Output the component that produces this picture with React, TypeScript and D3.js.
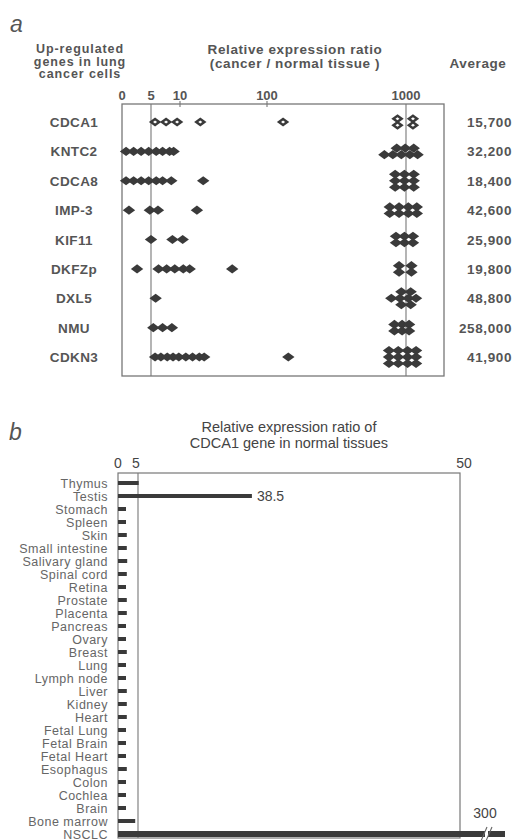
import React, { useEffect, useRef } from 'react';
import * as d3 from 'd3';

// panel a
const genes = ['CDCA1', 'KNTC2', 'CDCA8', 'IMP-3', 'KIF11', 'DKFZp', 'DXL5', 'NMU', 'CDKN3'];
const averages = ['15,700', '32,200', '18,400', '42,600', '25,900', '19,800', '48,800', '258,000', '41,900'];
// single cases below the 1000 column
const lowRatios = [
  [5.7, 7.6, 9.5, 31, 204],
  [0.7, 2.0, 3.3, 4.6, 5.9, 7.0, 8.2, 8.9],
  [0.7, 2.0, 3.3, 4.6, 5.9, 7.0, 8.5, 34],
  [1.2, 4.8, 6.2, 27.5],
  [5.0, 8.7, 12.8],
  [2.6, 6.3, 7.7, 9.1, 13.4, 20, 64],
  [5.8],
  [5.4, 7.0, 8.6],
  [5.7, 6.7, 7.8, 8.8, 9.8, 16, 23, 30, 35, 238],
];
// cases stacked at >1000, one array per stacked row
const highRatios = [
  [[945, 1045], [945, 1045]],
  [[940, 995, 1050], [860, 915, 970, 1025, 1075]],
  [[930, 990, 1050], [930, 990, 1050], [930, 990, 1050]],
  [[895, 955, 1015, 1070], [895, 955, 1015, 1070]],
  [[935, 990, 1045], [935, 990, 1045]],
  [[955, 1035], [955, 1035]],
  [[970, 1030], [905, 960, 1015, 1065], [970, 1030]],
  [[925, 975, 1020], [925, 975, 1020]],
  [[890, 950, 1010, 1065], [890, 950, 1010, 1065], [890, 950, 1010, 1065]],
];
const hollowGenes = ['CDCA1'];
const ratioTicks = [0, 5, 10, 100, 1000];
const ratioLines = [5, 1000];

// panel b
const tissues = [
  'Thymus', 'Testis', 'Stomach', 'Spleen', 'Skin', 'Small intestine', 'Salivary gland',
  'Spinal cord', 'Retina', 'Prostate', 'Placenta', 'Pancreas', 'Ovary', 'Breast', 'Lung',
  'Lymph node', 'Liver', 'Kidney', 'Heart', 'Fetal Lung', 'Fetal Brain', 'Fetal Heart',
  'Esophagus', 'Colon', 'Cochlea', 'Brain', 'Bone marrow', 'NSCLC',
];
const tissueRatios = [
  5.2, 38.5, 2.0, 2.0, 2.2, 2.2, 2.3, 2.2, 2.0, 2.2, 2.2, 2.0, 2.0, 2.2, 2.0,
  2.0, 2.2, 2.2, 2.2, 2.0, 2.0, 2.0, 2.2, 2.0, 2.0, 2.0, 4.3, 300,
];
const tissueTicks = [0, 5, 50];
const labelledTissues = ['Testis', 'NSCLC'];

const FONT = '"Liberation Sans", Arial, Helvetica, sans-serif';
const INK = '#3a3a3a';
const TEXT = '#555';
const LINE = '#777';

const diamond = (w: number, h: number) => `M0,${-h}L${w},0L0,${h}L${-w},0Z`;

const App: React.FC = () => {
  const svgRef = useRef<SVGSVGElement>(null);

  useEffect(() => {
    if (!svgRef.current) return;
    const svg = d3.select(svgRef.current);
    svg.selectAll('*').remove();

    // ---------- panel a ----------
    const boxA = { left: 122, right: 444, top: 104, bottom: 376 };
    const x = d3.scaleLinear().domain(ratioTicks).range([122, 151, 180, 267, 406]);
    const y = d3.scalePoint<string>().domain(genes).range([122, 357]);

    svg.append('text').attr('x', 10).attr('y', 32)
      .attr('font-size', 23).attr('font-style', 'italic').attr('fill', TEXT).text('a');

    const headLeft = ['Up-regulated', 'genes in lung', 'cancer cells'];
    headLeft.forEach((t, i) => {
      svg.append('text').attr('x', 80).attr('y', 53 + i * 12.5)
        .attr('text-anchor', 'middle').attr('font-size', 12.5).attr('font-weight', 'bold')
        .attr('letter-spacing', 0.9).attr('fill', TEXT).text(t);
    });
    ['Relative expression ratio', '(cancer / normal tissue )'].forEach((t, i) => {
      svg.append('text').attr('x', 295).attr('y', 54 + i * 14)
        .attr('text-anchor', 'middle').attr('font-size', 13.5).attr('font-weight', 'bold')
        .attr('letter-spacing', 0.6).attr('fill', TEXT).text(t);
    });
    svg.append('text').attr('x', 478).attr('y', 68)
      .attr('text-anchor', 'middle').attr('font-size', 13.5).attr('font-weight', 'bold')
      .attr('letter-spacing', 0.6).attr('fill', TEXT).text('Average');

    svg.append('g').selectAll('text').data(ratioTicks).join('text')
      .attr('x', d => x(d)).attr('y', 100).attr('text-anchor', 'middle')
      .attr('font-size', 13).attr('font-weight', 'bold').attr('fill', TEXT)
      .text(d => String(d));

    svg.append('rect')
      .attr('x', boxA.left).attr('y', boxA.top)
      .attr('width', boxA.right - boxA.left).attr('height', boxA.bottom - boxA.top)
      .attr('fill', 'none').attr('stroke', LINE).attr('stroke-width', 1.3);

    svg.append('g').selectAll('line').data(ratioLines).join('line')
      .attr('x1', d => x(d)).attr('x2', d => x(d))
      .attr('y1', boxA.top).attr('y2', boxA.bottom)
      .attr('stroke', LINE).attr('stroke-width', 1.1);

    // little ticks on the top edge
    svg.append('g').selectAll('line').data([10, 100]).join('line')
      .attr('x1', d => x(d)).attr('x2', d => x(d))
      .attr('y1', boxA.top - 3).attr('y2', boxA.top + 3)
      .attr('stroke', LINE).attr('stroke-width', 1.1);

    svg.append('g').selectAll('text').data(genes).join('text')
      .attr('x', 74).attr('y', d => (y(d) ?? 0) + 5).attr('text-anchor', 'middle')
      .attr('font-size', 13.5).attr('font-weight', 'bold').attr('letter-spacing', 0.4)
      .attr('fill', TEXT).text(d => d);

    svg.append('g').selectAll('text').data(averages).join('text')
      .attr('x', 512).attr('y', (_, i) => (y(genes[i]) ?? 0) + 5).attr('text-anchor', 'end')
      .attr('font-size', 13.5).attr('font-weight', 'bold').attr('letter-spacing', 0.6)
      .attr('fill', TEXT).text(d => d);

    const points: { gene: string; v: number; dy: number }[] = [];
    genes.forEach((g, i) => {
      lowRatios[i].forEach(v => points.push({ gene: g, v, dy: 0 }));
      const rows = highRatios[i];
      rows.forEach((row, r) => {
        const dy = (r - (rows.length - 1) / 2) * 6.5;
        row.forEach(v => points.push({ gene: g, v, dy }));
      });
    });

    const pts = svg.append('g').selectAll('g').data(points).join('g')
      .attr('transform', d => `translate(${x(d.v)},${(y(d.gene) ?? 0) + d.dy})`);
    pts.append('path').attr('d', diamond(6.2, 4.6)).attr('fill', INK);
    pts.filter(d => hollowGenes.includes(d.gene))
      .append('path').attr('d', diamond(2, 1.5)).attr('fill', '#fff');

    // ---------- panel b ----------
    const boxB = { left: 118, right: 460, top: 473, bottom: 838 };
    const xb = d3.scaleLinear().domain([0, 5, 40, 50]).range([118, 138, 257, 460]);
    const breakEnd = 505;
    const yb = d3.scalePoint<string>().domain(tissues).range([483, 834]);
    const barEnd = (v: number) => (v > 50 ? breakEnd : xb(v));

    svg.append('text').attr('x', 9).attr('y', 440)
      .attr('font-size', 23).attr('font-style', 'italic').attr('fill', TEXT).text('b');

    ['Relative expression ratio of', 'CDCA1 gene in normal tissues'].forEach((t, i) => {
      svg.append('text').attr('x', 289).attr('y', 432 + i * 16)
        .attr('text-anchor', 'middle').attr('font-size', 14.5)
        .attr('fill', '#444').text(t);
    });

    svg.append('g').selectAll('text').data(tissueTicks).join('text')
      .attr('x', d => xb(d) + (d === 5 ? -2 : d === 50 ? 4 : 0)).attr('y', 468)
      .attr('text-anchor', 'middle').attr('font-size', 14).attr('fill', '#444')
      .text(d => String(d));

    svg.append('rect')
      .attr('x', boxB.left).attr('y', boxB.top)
      .attr('width', boxB.right - boxB.left).attr('height', boxB.bottom - boxB.top)
      .attr('fill', 'none').attr('stroke', LINE).attr('stroke-width', 1.2);
    svg.append('line')
      .attr('x1', xb(5)).attr('x2', xb(5)).attr('y1', boxB.top).attr('y2', boxB.bottom)
      .attr('stroke', LINE).attr('stroke-width', 1.1);

    svg.append('g').selectAll('text').data(tissues).join('text')
      .attr('x', 108).attr('y', d => (yb(d) ?? 0) + 4.5).attr('text-anchor', 'end')
      .attr('font-size', 12.5).attr('letter-spacing', 0.5).attr('fill', '#666').text(d => d);

    svg.append('g').selectAll('rect').data(tissueRatios).join('rect')
      .attr('x', xb(0))
      .attr('y', (d, i) => (yb(tissues[i]) ?? 0) - (d > 50 ? 3 : 2))
      .attr('width', d => barEnd(d) - xb(0))
      .attr('height', d => (d > 50 ? 6 : 4))
      .attr('fill', INK);

    // value labels
    tissues.forEach((t, i) => {
      if (!labelledTissues.includes(t)) return;
      const v = tissueRatios[i];
      const yy = yb(t) ?? 0;
      if (v > 50) {
        svg.append('text').attr('x', 485).attr('y', yy - 16)
          .attr('text-anchor', 'middle').attr('font-size', 14).attr('fill', '#444')
          .text(String(v));
        // axis break
        svg.append('rect').attr('x', 485).attr('y', yy - 4).attr('width', 3).attr('height', 8)
          .attr('fill', '#fff');
        [-2.5, 2.5].forEach(dx => {
          svg.append('line')
            .attr('x1', 483.5 + dx).attr('y1', yy + 7).attr('x2', 489.5 + dx).attr('y2', yy - 7)
            .attr('stroke', '#666').attr('stroke-width', 1.1);
        });
      } else {
        svg.append('text').attr('x', barEnd(v) + 5).attr('y', yy + 5)
          .attr('font-size', 14).attr('fill', '#444').text(String(v));
      }
    });
  }, []);

  return (
    <svg
      ref={svgRef}
      width={521}
      height={840}
      style={{ position: 'absolute', left: 0, top: 0, background: '#fff', fontFamily: FONT }}
    />
  );
};

export default App;
